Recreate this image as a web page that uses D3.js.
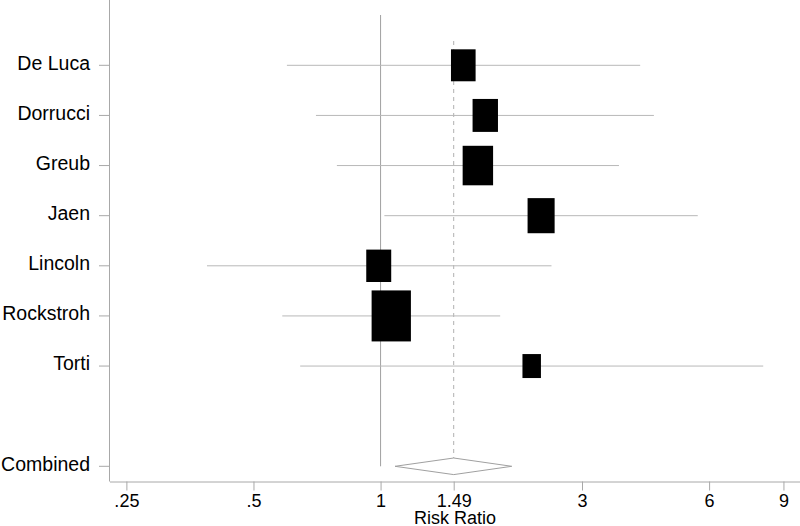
<!DOCTYPE html>
<html>
<head>
<meta charset="utf-8">
<script src="https://cdn.jsdelivr.net/npm/d3@7"></script>
<style>
  body { margin: 0; background: #fff; }
  text { font-family: "Liberation Sans", Arial, sans-serif; fill: #000; }
</style>
</head>
<body>
<div id="chart"></div>
<script>
// Study data (risk ratio, 95% CI, weight %)
var studies = ["De Luca", "Dorrucci", "Greub", "Jaen", "Lincoln", "Rockstroh", "Torti"];
var estimates = [1.57, 1.77, 1.70, 2.40, 0.99, 1.06, 2.28];
var lower = [0.600, 0.703, 0.788, 1.021, 0.388, 0.585, 0.645];
var upper = [4.12, 4.44, 3.67, 5.64, 2.54, 1.92, 8.06];
var weights = [11.2, 11.9, 17.1, 13.5, 11.5, 28.5, 6.3];

var combinedLabel = "Combined";
var combined = { est: 1.49, low: 1.082, high: 2.045 };

var xTicks = [0.25, 0.5, 1, 1.49, 3, 6, 9];
var xTickLabels = [".25", ".5", "1", "1.49", "3", "6", "9"];

var svgWidth = 800;
var svgHeight = 526;

var svg = d3.select("#chart")
  .append("svg")
  .attr("width", svgWidth)
  .attr("height", svgHeight);

// scales
var xScale = d3.scaleLog()
  .domain([0.228, 9.85])
  .range([109.5, 800]);

// rows 0..6 for studies, row 8 for combined
var yScale = d3.scaleLinear()
  .domain([0, 8])
  .range([65.3, 466.3]);

var boxW = d3.scaleSqrt().domain([0, 28.5]).range([0, 39.3]);
var boxH = d3.scaleSqrt().domain([0, 28.5]).range([0, 51]);

var axisY = 481.5;
var axisColor = "#a8a8a8";

var rows = studies.map(function(name, i) {
  return { name: name, est: estimates[i], low: lower[i], high: upper[i], w: weights[i], row: i };
});

// null line at 1
svg.append("line")
  .attr("x1", xScale(1)).attr("x2", xScale(1))
  .attr("y1", 15).attr("y2", yScale(8))
  .attr("stroke", "#a0a0a0")
  .attr("stroke-width", 1);

// dashed line at combined estimate
svg.append("line")
  .attr("x1", xScale(combined.est)).attr("x2", xScale(combined.est))
  .attr("y1", 41).attr("y2", yScale(8) + 8)
  .attr("stroke", "#b0b0b0")
  .attr("stroke-width", 1)
  .attr("stroke-dasharray", "4,4");

// confidence interval lines
svg.selectAll(".ci")
  .data(rows)
  .enter()
  .append("line")
  .attr("class", "ci")
  .attr("x1", d => xScale(d.low))
  .attr("x2", d => xScale(d.high))
  .attr("y1", d => yScale(d.row))
  .attr("y2", d => yScale(d.row))
  .attr("stroke", "#b8b8b8")
  .attr("stroke-width", 1);

// weight boxes
svg.selectAll(".box")
  .data(rows)
  .enter()
  .append("rect")
  .attr("class", "box")
  .attr("x", d => xScale(d.est) - boxW(d.w) / 2)
  .attr("y", d => yScale(d.row) - boxH(d.w) / 2)
  .attr("width", d => boxW(d.w))
  .attr("height", d => boxH(d.w))
  .attr("fill", "#000");

// combined diamond
var cy = yScale(8);
var dh = 8.3;
svg.append("polygon")
  .attr("points", [
    [xScale(combined.low), cy],
    [xScale(combined.est), cy - dh],
    [xScale(combined.high), cy],
    [xScale(combined.est), cy + dh]
  ].map(p => p.join(",")).join(" "))
  .attr("fill", "#fff")
  .attr("stroke", "#a0a0a0")
  .attr("stroke-width", 1);

// x axis
var bottomAxis = d3.axisBottom(xScale)
  .tickValues(xTicks)
  .tickFormat((d, i) => xTickLabels[i])
  .tickSizeInner(9)
  .tickSizeOuter(0)
  .tickPadding(4);

var gx = svg.append("g")
  .attr("transform", `translate(0, ${axisY})`)
  .call(bottomAxis);
gx.select(".domain").attr("stroke", axisColor);
gx.selectAll(".tick line").attr("stroke", axisColor);
gx.selectAll(".tick text")
  .attr("y", 0)
  .attr("dy", 0)
  .attr("transform", "translate(0, 25.8)")
  .style("font-size", "18px")
  .style("font-family", "'Liberation Sans', Arial, sans-serif")
  .attr("fill", "#000");

// y axis line
svg.append("line")
  .attr("x1", 109.5).attr("x2", 109.5)
  .attr("y1", 0).attr("y2", axisY)
  .attr("stroke", axisColor)
  .attr("stroke-width", 1);

var yLabels = rows.map(d => ({ name: d.name, row: d.row }))
  .concat([{ name: combinedLabel, row: 8 }]);

svg.selectAll(".ytick")
  .data(yLabels)
  .enter()
  .append("line")
  .attr("class", "ytick")
  .attr("x1", 99).attr("x2", 109.5)
  .attr("y1", d => yScale(d.row))
  .attr("y2", d => yScale(d.row))
  .attr("stroke", axisColor);

svg.selectAll(".ylabel")
  .data(yLabels)
  .enter()
  .append("text")
  .attr("class", "ylabel")
  .attr("x", 90)
  .attr("y", d => yScale(d.row) + 4.3)
  .attr("text-anchor", "end")
  .style("font-size", "19.5px")
  .text(d => d.name);

// axis title
svg.append("text")
  .attr("x", 455)
  .attr("y", 524)
  .attr("text-anchor", "middle")
  .style("font-size", "18px")
  .text("Risk Ratio");
</script>
</body>
</html>
